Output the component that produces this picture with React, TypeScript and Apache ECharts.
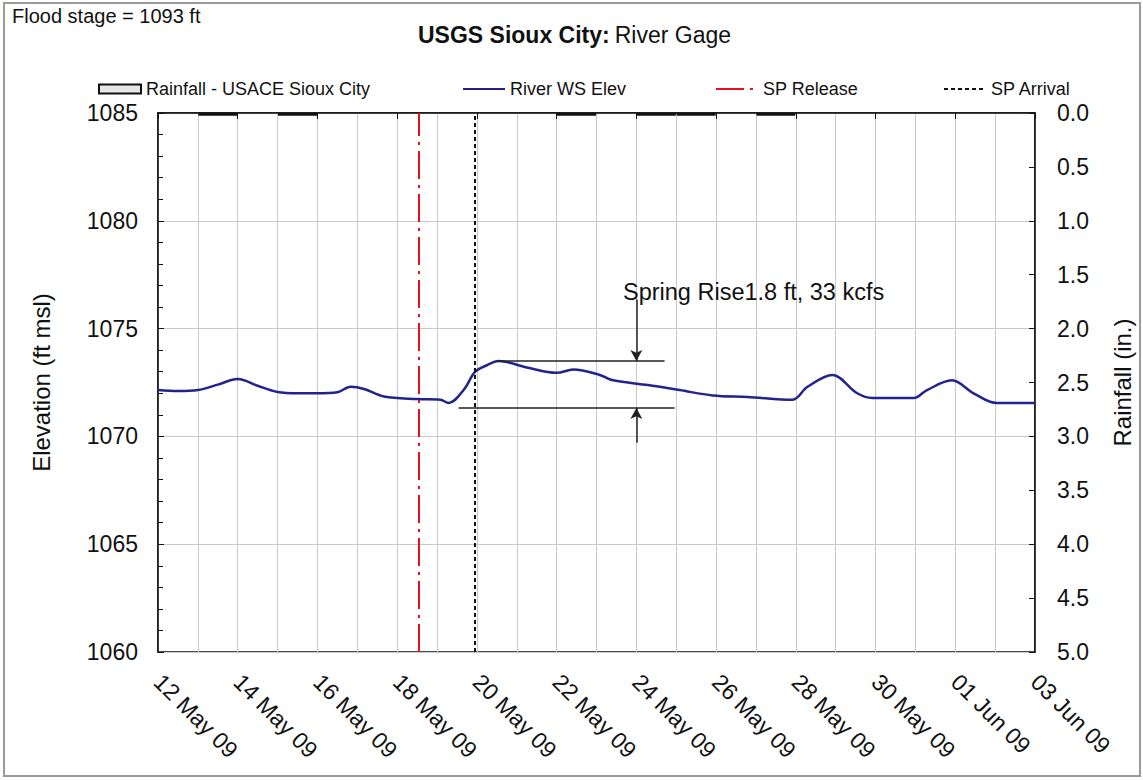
import React, { useEffect, useRef } from "react";
import * as echarts from "echarts";

// ---------- data ----------
const xStart = "2009-05-12 00:00";
const xEnd = "2009-06-03 00:00";

const riverTimes = [
  "2009-05-12 00:00", "2009-05-12 12:00", "2009-05-13 00:00", "2009-05-13 12:00",
  "2009-05-14 00:00", "2009-05-14 12:00", "2009-05-15 00:00", "2009-05-15 12:00",
  "2009-05-16 00:00", "2009-05-16 12:00", "2009-05-16 20:00", "2009-05-17 04:00",
  "2009-05-17 16:00", "2009-05-18 12:00", "2009-05-19 02:00", "2009-05-19 07:00",
  "2009-05-19 16:00", "2009-05-19 23:00", "2009-05-20 06:00", "2009-05-20 13:00",
  "2009-05-21 06:00", "2009-05-22 00:00", "2009-05-22 10:00", "2009-05-23 02:00",
  "2009-05-23 10:00", "2009-05-24 07:00", "2009-05-25 02:00", "2009-05-25 22:00",
  "2009-05-26 19:00", "2009-05-27 22:00", "2009-05-28 07:00", "2009-05-28 22:00",
  "2009-05-29 13:00", "2009-05-29 22:00", "2009-05-30 23:00", "2009-05-31 07:00",
  "2009-05-31 22:00", "2009-06-01 11:00", "2009-06-02 01:00", "2009-06-03 00:00",
];
const riverElev = [
  1072.15, 1072.1, 1072.15, 1072.4,
  1072.66, 1072.35, 1072.06, 1072.0,
  1072.0, 1072.05, 1072.3, 1072.2,
  1071.85, 1071.73, 1071.7, 1071.55,
  1072.15, 1073.0, 1073.3, 1073.5,
  1073.2, 1072.95, 1073.1, 1072.85,
  1072.6, 1072.38, 1072.15, 1071.9,
  1071.83, 1071.7, 1072.3, 1072.85,
  1072.0, 1071.78, 1071.78, 1072.15,
  1072.6, 1072.0, 1071.55, 1071.55,
];

const rainTimes = [
  "2009-05-13 12:00", "2009-05-15 12:00", "2009-05-22 12:00",
  "2009-05-24 12:00", "2009-05-25 12:00", "2009-05-27 12:00",
];
const rainInches = [0.025, 0.025, 0.025, 0.025, 0.025, 0.025];

const spReleaseTime = "2009-05-18 13:00";
const spArrivalTime = "2009-05-19 22:30";

// Spring rise annotation (elevation, ft)
const riseTopElev = 1073.5;
const riseBaseElev = 1071.32;
const riseTopFrom = "2009-05-20 12:00";
const riseTopTo = "2009-05-24 17:00";
const riseBaseFrom = "2009-05-19 13:00";
const riseBaseTo = "2009-05-24 23:00";
const riseArrowAt = "2009-05-24 00:00";
const riseArrowTopStart = 1076.35;
const riseArrowBottomStart = 1069.7;
const riseText = "Spring Rise1.8 ft, 33 kcfs";

const elevMin = 1060, elevMax = 1085, elevStep = 5;
const rainMin = 0, rainMax = 5, rainStep = 0.5;

const titleBold = "USGS Sioux City:";
const titleRest = "River Gage";
const floodStageText = "Flood stage = 1093 ft";

const seriesNames = ["Rainfall - USACE Sioux City", "River WS Elev", "SP Release", "SP Arrival"];
const monthNames = ["Jan", "Feb", "Mar", "Apr", "May", "Jun", "Jul", "Aug", "Sep", "Oct", "Nov", "Dec"];

// ---------- helpers ----------
const DAY = 86400000;
const toMs = (s: string) => {
  const [d, t] = s.split(" ");
  const [y, m, dd] = d.split("-").map(Number);
  const [h, mi] = (t || "00:00").split(":").map(Number);
  return Date.UTC(y, m - 1, dd, h, mi);
};
const fmtDate = (v: number) => {
  const d = new Date(v);
  const dd = String(d.getUTCDate()).padStart(2, "0");
  const yy = String(d.getUTCFullYear() % 100).padStart(2, "0");
  return `${dd} ${monthNames[d.getUTCMonth()]} ${yy}`;
};

const FONT = "'Liberation Sans', Arial, Helvetica, sans-serif";
const TXT = "#111";
const GRID = "#c9c9c9";

export default function App() {
  const ref = useRef<HTMLDivElement>(null);

  useEffect(() => {
    if (!ref.current) return;
    const chart = echarts.init(ref.current, undefined, { renderer: "svg" });

    const riverData = riverTimes.map((t, i) => [toMs(t), riverElev[i]]);
    const rainData = rainTimes.map((t, i) => [toMs(t), rainInches[i]]);

    const legendBase = {
      top: 75,
      itemWidth: 42,
      itemHeight: 9,
      itemGap: 10,
      textStyle: { fontSize: 18, color: TXT, fontFamily: FONT },
      selectedMode: false,
    };
    const lineLegend = { ...legendBase, itemStyle: { opacity: 0 } };

    const option: any = {
      animation: false,
      backgroundColor: "#ffffff",
      textStyle: { fontFamily: FONT },
      title: {
        text: `{b|${titleBold}} {r|${titleRest}}`,
        left: 413,
        top: 18,
        textStyle: {
          rich: {
            b: { fontWeight: "bold", fontSize: 23, color: TXT, fontFamily: FONT },
            r: { fontWeight: "normal", fontSize: 23, color: TXT, fontFamily: FONT },
          },
        },
      },
      legend: [
        { ...legendBase, left: 93, data: [{ name: seriesNames[0], icon: "rect" }] },
        { ...lineLegend, left: 457, data: [seriesNames[1]] },
        { ...lineLegend, left: 710, data: [seriesNames[2]] },
        { ...lineLegend, left: 938, data: [seriesNames[3]] },
      ],
      grid: {
        left: 158,
        right: 108,
        top: 113,
        bottom: 128,
        show: true,
        borderColor: "#111",
        borderWidth: 1.5,
        backgroundColor: "transparent",
        outerBoundsMode: "none",
        containLabel: false,
      },
      xAxis: {
        type: "value",
        min: toMs(xStart),
        max: toMs(xEnd),
        interval: 2 * DAY,
        axisLine: { show: true, lineStyle: { color: "#111", width: 1.5 } },
        axisTick: { show: true, length: 6, lineStyle: { color: "#111" } },
        minorTick: { show: false, splitNumber: 2 },
        splitLine: { show: true, lineStyle: { color: GRID, width: 1 } },
        minorSplitLine: { show: true, lineStyle: { color: GRID, width: 1 } },
        axisLabel: {
          rotate: -45,
          fontSize: 23,
          color: TXT,
          fontFamily: FONT,
          margin: 26,
          formatter: (v: number) => fmtDate(v),
          showMinLabel: true,
          showMaxLabel: true,
          hideOverlap: false,
        },
      },
      yAxis: [
        {
          type: "value",
          position: "left",
          min: elevMin,
          max: elevMax,
          interval: elevStep,
          axisLine: { show: true, lineStyle: { color: "#111", width: 1.5 } },
          axisTick: { show: true, inside: true, length: 6, lineStyle: { color: "#111" } },
          minorTick: { show: true, splitNumber: 5, length: 5, lineStyle: { color: "#111" } },
          splitLine: { show: true, lineStyle: { color: GRID, width: 1 } },
          axisLabel: {
            fontSize: 23,
            color: TXT,
            fontFamily: FONT,
            margin: 20,
            formatter: (v: number) => String(v),
          },
          name: "Elevation (ft msl)",
          nameLocation: "middle",
          nameRotate: 90,
          nameGap: 105,
          nameTextStyle: { fontSize: 24, color: TXT, fontFamily: FONT },
        },
        {
          type: "value",
          position: "right",
          min: rainMin,
          max: rainMax,
          interval: rainStep,
          inverse: true,
          axisLine: { show: true, lineStyle: { color: "#111", width: 1.5 } },
          axisTick: { show: true, inside: true, length: 6, lineStyle: { color: "#111" } },
          splitLine: { show: false },
          axisLabel: {
            fontSize: 23,
            color: TXT,
            fontFamily: FONT,
            margin: 22,
            formatter: (v: number) => v.toFixed(1),
          },
          name: "Rainfall (in.)",
          nameLocation: "middle",
          nameRotate: 90,
          nameGap: 75,
          nameTextStyle: { fontSize: 24, color: TXT, fontFamily: FONT },
        },
      ],
      series: [
        {
          name: seriesNames[0],
          type: "bar",
          xAxisIndex: 0,
          yAxisIndex: 1,
          data: rainData,
          barWidth: 39,
          itemStyle: { color: "#e6e6e6", borderColor: "#111", borderWidth: 1.5 },
          z: 3,
        },
        {
          name: seriesNames[1],
          type: "line",
          xAxisIndex: 0,
          yAxisIndex: 0,
          data: riverData,
          showSymbol: false,
          symbol: "none",
          smooth: 0.35,
          lineStyle: { color: "#23238e", width: 2.5 },
          itemStyle: { color: "#23238e" },
          z: 4,
          markLine: {
            silent: true,
            animation: false,
            label: { show: false },
            symbol: ["none", "none"],
            symbolSize: [9, 11],
            lineStyle: { color: "#222", width: 1.5, type: "solid" },
            emphasis: { disabled: true },
            data: [
              [
                { coord: [toMs(riseTopFrom), riseTopElev], symbol: "none" },
                { coord: [toMs(riseTopTo), riseTopElev], symbol: "none" },
              ],
              [
                { coord: [toMs(riseBaseFrom), riseBaseElev], symbol: "none" },
                { coord: [toMs(riseBaseTo), riseBaseElev], symbol: "none" },
              ],
              [
                { coord: [toMs(riseArrowAt), riseArrowTopStart], symbol: "none" },
                { coord: [toMs(riseArrowAt), riseTopElev], symbol: "arrow" },
              ],
              [
                { coord: [toMs(riseArrowAt), riseArrowBottomStart], symbol: "none" },
                { coord: [toMs(riseArrowAt), riseBaseElev], symbol: "arrow" },
              ],
            ],
          },
        },
        {
          name: seriesNames[2],
          type: "line",
          xAxisIndex: 0,
          yAxisIndex: 0,
          data: [],
          symbol: "none",
          lineStyle: { color: "#e8101c", width: 2, type: [28, 6, 3, 6] },
          itemStyle: { color: "#e8101c" },
          markLine: {
            silent: true,
            animation: false,
            symbol: ["none", "none"],
            label: { show: false },
            lineStyle: { color: "#e8101c", width: 2, type: [28, 6, 3, 6] },
            emphasis: { disabled: true },
            data: [{ xAxis: toMs(spReleaseTime) }],
          },
        },
        {
          name: seriesNames[3],
          type: "line",
          xAxisIndex: 0,
          yAxisIndex: 0,
          data: [],
          symbol: "none",
          lineStyle: { color: "#111", width: 2, type: [4, 3] },
          itemStyle: { color: "#111" },
          markLine: {
            silent: true,
            animation: false,
            symbol: ["none", "none"],
            label: { show: false },
            lineStyle: { color: "#111", width: 2, type: [4, 3] },
            emphasis: { disabled: true },
            data: [{ xAxis: toMs(spArrivalTime) }],
          },
        },
      ],
      graphic: [
        {
          type: "rect",
          shape: { x: 4, y: 3, width: 1136, height: 773 },
          style: { fill: "none", stroke: "#9a9a9a", lineWidth: 2 },
          silent: true,
          z: 0,
        },
        {
          type: "text",
          x: 12,
          y: 6,
          style: { text: floodStageText, fontSize: 20, fill: TXT, fontFamily: FONT },
          silent: true,
        },
        {
          type: "text",
          x: 623,
          y: 280,
          style: { text: riseText, fontSize: 23.5, fill: TXT, fontFamily: FONT },
          silent: true,
          z: 10,
        },
      ],
    };

    chart.setOption(option);
    return () => chart.dispose();
  }, []);

  return (
    <div
      ref={ref}
      style={{ position: "absolute", left: 0, top: 0, width: 1143, height: 780, background: "#fff" }}
    />
  );
}
